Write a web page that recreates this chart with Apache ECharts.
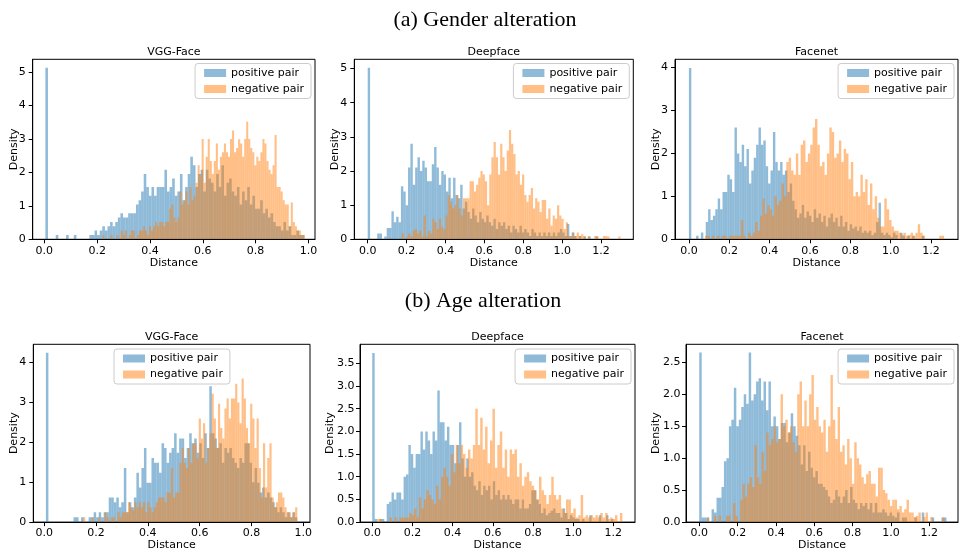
<!DOCTYPE html>
<html lang="en">
<head>
<meta charset="UTF-8">
<title>Distance distributions</title>
<script src="https://cdn.jsdelivr.net/npm/echarts@6/dist/echarts.min.js"></script>
<style>
    html, body { margin: 0; padding: 0; background: #fff; }
    #chart { width: 960px; height: 552px; }
</style>
</head>
<body>
<div id="chart"></div>
<script>
// ---- text ----
var rowTitles = ['(a) Gender alteration', '(b) Age alteration'];
var modelNames = ['VGG-Face', 'Deepface', 'Facenet'];
var seriesNames = ['positive pair', 'negative pair'];

// ---- tick values ----
var xTicks10 = [0, 0.2, 0.4, 0.6, 0.8, 1.0];
var xTicks12 = [0, 0.2, 0.4, 0.6, 0.8, 1.0, 1.2];
var yTicks5 = [0, 1, 2, 3, 4, 5];
var yTicks4 = [0, 1, 2, 3, 4];
var yTicks35 = [0, 0.5, 1.0, 1.5, 2.0, 2.5, 3.0, 3.5];
var yTicks25 = [0, 0.5, 1.0, 1.5, 2.0, 2.5];

// ---- histograms: first/last bin edge + 100 densities ----
var gVggPosEdges = [0.004, 0.984];
var gVggPos = [
    5.13, 0, 0, 0, 0.13, 0, 0, 0, 0.13, 0,
    0, 0.13, 0, 0, 0, 0, 0, 0.13, 0.13, 0.26,
    0.13, 0.26, 0.39, 0.26, 0.39, 0.52, 0.39, 0.52, 0.65, 0.78,
    0.65, 0.65, 0.78, 0.78, 0.78, 1.04, 1.17, 1.43, 1.95, 1.56,
    1.3, 1.56, 1.3, 1.56, 1.56, 1.56, 2.08, 1.43, 1.56, 1.82,
    1.3, 1.43, 1.95, 1.17, 1.56, 1.95, 2.47, 2.21, 1.56, 1.95,
    2.08, 1.43, 2.08, 1.82, 1.69, 1.43, 1.95, 1.56, 2.21, 1.3,
    1.69, 1.82, 1.43, 1.3, 1.56, 1.04, 1.43, 1.17, 1.56, 1.04,
    1.3, 0.91, 0.91, 1.17, 0.78, 0.91, 0.65, 0.78, 0.52, 0.39,
    0.39, 0.26, 0.52, 0.26, 0.39, 0.13, 0.13, 0.26, 0.13, 0.13
];
var gVggNegEdges = [0.22, 0.987];
var gVggNeg = [
    0.13, 0, 0, 0, 0.13, 0, 0, 0.13, 0, 0.26,
    0.13, 0.26, 0, 0.13, 0.26, 0.26, 0, 0.13, 0.26, 0.26,
    0.39, 0.26, 0.13, 0.39, 0.26, 0.39, 0.52, 0.39, 0.52, 0.52,
    0.39, 0.52, 0.52, 0.91, 1.04, 0.65, 0.52, 0.65, 1.43, 1.04,
    1.17, 1.43, 1.04, 1.56, 1.17, 1.3, 1.69, 2.21, 1.95, 3.0,
    1.69, 2.47, 3.0, 2.34, 1.95, 2.34, 2.86, 2.08, 2.47, 2.6,
    2.86, 2.6, 2.47, 3.0, 3.25, 2.6, 2.73, 2.99, 2.86, 2.47,
    3.0, 3.51, 3.0, 2.73, 2.6, 2.21, 2.47, 2.34, 2.6, 3.0,
    2.86, 2.34, 2.08, 1.95, 2.21, 3.12, 1.56, 1.56, 1.43, 1.17,
    1.04, 1.04, 0.39, 1.1, 0.52, 0.39, 0.26, 0.26, 0.13, 0.13
];

var gDeepPosEdges = [0, 1.22];
var gDeepPos = [
    5.02, 0, 0, 0, 0.17, 0.17, 0, 0.08, 0.33, 0.33,
    0.82, 0.5, 0.66, 0.5, 1.55, 1.4, 1.0, 2.1, 2.8, 1.6,
    2.1, 2.4, 2.0, 2.3, 2.1, 1.7, 1.7, 2.2, 2.7, 2.1,
    1.6, 2.0, 1.9, 1.4, 1.8, 1.2, 1.8, 1.3, 1.2, 1.6,
    0.9, 1.1, 0.8, 0.6, 0.9, 0.7, 0.5, 0.8, 0.6, 0.5,
    0.7, 0.5, 0.4, 0.6, 0.3, 0.5, 0.4, 0.5, 0.3, 0.4,
    0.2, 0.4, 0.3, 0.2, 0.4, 0.2, 0.3, 0.2, 0.1, 0.3,
    0.2, 0.1, 0.2, 0.1, 0.2, 0.1, 0.2, 0.1, 0.2, 0.1,
    0.2, 0.3, 0.2, 0.1, 0.45, 0.1, 0.2, 0.1, 0, 0.1,
    0, 0.08, 0, 0.08, 0, 0, 0.08, 0, 0, 0
];
var gDeepNegEdges = [0.175, 1.3];
var gDeepNeg = [
    0.17, 0, 0.08, 0.17, 0.08, 0.25, 0.3, 0.17, 0.25, 0.08,
    0.7, 0.08, 0.25, 0.17, 0.6, 0.5, 0.3, 0.6, 0.35, 0.3,
    0.7, 1.3, 1.1, 0.9, 1.0, 1.3, 0.9, 0.7, 1.2, 1.2,
    1.2, 1.7, 1.7, 1.4, 1.6, 1.8, 2.0, 1.9, 1.7, 1.0,
    1.9, 2.4, 2.85, 2.4, 1.9, 2.8, 2.4, 2.0, 2.6, 3.2,
    2.8, 2.5, 1.9, 2.0, 1.6, 1.9, 1.3, 1.1, 1.3, 1.5,
    0.9, 1.2, 1.1, 0.8, 1.15, 1.15, 0.6, 0.9, 0.4, 0.7,
    0.6, 1.0, 0.7, 0.6, 0.3, 0.5, 0.1, 0.1, 0.2, 0.1,
    0.2, 0.1, 0.15, 0.1, 0, 0.1, 0, 0, 0.1, 0.1,
    0, 0, 0.1, 0.1, 0.08, 0, 0, 0, 0, 0.08
];

var gFacePosEdges = [0, 1.19];
var gFacePos = [
    3.99, 0, 0, 0.08, 0, 0.16, 0, 0.4, 0.7, 0.45,
    0.55, 0.7, 0.95, 0.7, 1.1, 1.1, 1.5, 1.4, 1.1, 2.6,
    2.0, 1.8, 2.2, 1.7, 2.1, 1.3, 1.6, 1.9, 2.2, 2.6,
    2.2, 2.3, 1.7, 1.3, 1.6, 2.5, 1.8, 1.6, 1.8, 1.5,
    1.6, 1.1, 1.3, 0.9, 0.7, 0.5, 0.6, 0.8, 0.5, 0.65,
    0.55, 0.4, 0.7, 0.5, 0.6, 0.4, 0.55, 0.3, 0.5, 0.6,
    0.4, 0.5, 0.3, 0.55, 0.3, 0.4, 0.2, 0.35, 0.25, 0.3,
    0.2, 0.3, 0.15, 0.2, 0.15, 0.2, 0.1, 0.15, 0.4, 0.85,
    0.15, 0.1, 0.15, 0.1, 0.05, 0.15, 0.1, 0, 0.15, 0.08,
    0, 0.08, 0, 0.08, 0, 0, 0, 0.08, 0, 0
];
var gFaceNegEdges = [0.08, 1.265];
var gFaceNeg = [
    0.08, 0.08, 0, 0.08, 0, 0.08, 0, 0.08, 0.08, 0,
    0.08, 0.08, 0.08, 0.08, 0.08, 0.45, 0.08, 0, 0.15, 0.08,
    0.15, 0.4, 0.2, 0.55, 0.95, 0.6, 0.8, 0.7, 0.55, 1.0,
    0.8, 0.9, 1.3, 1.0, 1.8, 1.9, 1.6, 1.5, 2.0, 1.5,
    2.2, 2.3, 1.8, 2.0, 2.2, 2.6, 2.8, 2.2, 1.7, 1.8,
    1.5, 2.0, 2.6, 2.5, 1.9, 2.0, 2.3, 1.8, 2.1, 2.0,
    1.4, 1.8, 1.0, 1.1, 1.0, 1.5, 1.1, 1.4, 0.8, 1.3,
    0.7, 1.0, 0.5, 0.3, 0.3, 0.95, 0.7, 0.45, 0.3, 0.2,
    0.2, 0.15, 0.1, 0.15, 0.08, 0.1, 0.15, 0.08, 0.15, 0.35,
    0.15, 0.08, 0, 0, 0, 0, 0, 0, 0.08, 0.08
];

var aVggPosEdges = [0.0066, 0.977];
var aVggPos = [
    4.25, 0, 0, 0, 0, 0, 0, 0, 0, 0,
    0, 0.12, 0.12, 0, 0.12, 0, 0, 0.12, 0.12, 0.25,
    0.12, 0.25, 0.12, 0.25, 0.25, 0.62, 0.62, 0.5, 0.62, 0.37,
    0.5, 1.36, 0.25, 0.5, 0.37, 0.62, 1.24, 0.87, 1.36, 1.86,
    0.99, 0.99, 1.61, 1.49, 1.49, 1.24, 1.98, 1.86, 1.49, 1.74,
    1.86, 2.23, 1.74, 2.1, 2.1, 1.61, 1.86, 2.23, 1.98, 2.1,
    1.74, 1.98, 1.61, 2.23, 1.86, 3.41, 2.23, 2.1, 1.86, 1.98,
    1.49, 1.86, 1.74, 1.86, 1.61, 1.49, 1.36, 1.61, 1.49, 1.98,
    1.98, 1.49, 1.0, 1.36, 0.99, 0.74, 0.87, 0.62, 0.74, 0.62,
    0.5, 0.37, 0.25, 0.37, 0.25, 0.12, 0.25, 0.12, 0.25, 0.12
];
var aVggNegEdges = [0.15, 0.977];
var aVggNeg = [
    0.12, 0, 0, 0, 0.12, 0, 0, 0.12, 0, 0,
    0.25, 0.12, 0, 0.12, 0.12, 0, 0.25, 0.12, 0.25, 0.25,
    0.25, 0.5, 0.37, 0.3, 0.5, 0.37, 0.5, 0.37, 0.5, 0.25,
    0.5, 0.37, 0.25, 0.37, 0.5, 0.62, 0.62, 0.62, 0.5, 0.74,
    0.74, 1.36, 0.62, 0.74, 0.74, 1.49, 1.86, 1.49, 1.36, 1.86,
    1.49, 1.98, 1.98, 1.61, 2.6, 2.1, 2.48, 1.49, 1.86, 2.23,
    3.22, 2.6, 1.86, 2.97, 2.36, 2.1, 2.85, 3.1, 2.6, 3.1,
    3.1, 3.47, 3.0, 2.48, 3.6, 3.1, 2.36, 1.98, 2.97, 2.6,
    1.86, 2.6, 1.36, 0.62, 1.98, 0.87, 1.61, 1.98, 0.62, 0.37,
    0.5, 0.74, 0.74, 0.62, 0.37, 0.25, 0.25, 0.12, 0.25, 0.37
];

var aDeepPosEdges = [0, 1.2];
var aDeepPos = [
    3.73, 0.07, 0, 0.07, 0.07, 0, 0.4, 0.45, 0.65, 0.5,
    0.65, 0.65, 0.5, 1.0, 1.05, 1.7, 1.5, 1.2, 1.5, 1.5,
    2.0, 1.6, 2.0, 1.8, 1.5, 2.0, 1.8, 2.9, 2.2, 2.2,
    1.8, 2.1, 1.7, 1.7, 1.3, 1.7, 2.2, 1.4, 1.0, 1.4,
    1.0, 1.1, 0.8, 0.7, 0.9, 0.6, 0.8, 0.7, 0.8, 0.5,
    0.9, 0.6, 0.7, 0.5, 0.6, 0.5, 0.6, 0.5, 0.4, 0.5,
    0.5, 0.3, 0.5, 0.3, 0.3, 0.4, 0.7, 0.7, 0.5, 0.4,
    0.2, 0.3, 0.15, 0.2, 0.25, 0.3, 0.2, 0.2, 0.1, 0.3,
    0.2, 0.07, 0.15, 0.1, 0.07, 0.07, 0, 0.07, 0, 0,
    0.15, 0, 0, 0, 0.15, 0, 0, 0.15, 0, 0.07
];
var aDeepNegEdges = [0.025, 1.245];
var aDeepNeg = [
    0.07, 0.07, 0, 0, 0, 0.1, 0, 0.1, 0, 0.1,
    0.1, 0.1, 0.1, 0.2, 0.15, 0.3, 0.1, 0.55, 0.3, 0.5,
    0.7, 0.6, 0.5, 0.4, 0.8, 0.5, 1.0, 1.2, 1.0, 0.8,
    1.5, 1.1, 1.7, 1.3, 1.7, 1.5, 1.2, 1.6, 1.4, 1.7,
    2.5, 1.7, 2.3, 1.6, 2.1, 1.3, 1.8, 2.5, 1.2, 1.7,
    2.0, 1.2, 1.6, 1.0, 1.6, 1.5, 1.6, 1.0, 1.3, 0.8,
    1.0, 1.1, 0.9, 0.8, 0.7, 0.5, 1.0, 0.7, 0.6, 0.4,
    0.6, 1.0, 0.6, 0.5, 0.6, 0.3, 0.2, 0.5, 0.5, 0.2,
    0.3, 0.1, 0.15, 0.6, 0.1, 0.15, 0.1, 0.15, 0.1, 0.15,
    0.1, 0.2, 0.1, 0.2, 0.07, 0.1, 0.07, 0.15, 0, 0.2
];

var aFacePosEdges = [0, 1.29];
var aFacePos = [
    2.65, 0.07, 0.07, 0.07, 0, 0.2, 0.15, 0.38, 0.38, 0.55,
    0.95, 1.0, 1.5, 1.6, 2.1, 1.5, 1.6, 1.8, 2.0, 1.85,
    2.65, 1.9, 2.0, 2.2, 2.25, 1.9, 2.2, 1.75, 2.2, 1.5,
    1.65, 1.5, 1.3, 1.55, 1.55, 1.25, 1.4, 1.7, 1.5, 1.35,
    1.2, 0.9, 1.2, 0.8, 1.1, 0.85, 0.7, 0.8, 0.6, 0.6,
    0.55, 0.5, 0.4, 0.3, 0.35, 0.5, 0.4, 0.3, 0.4, 0.5,
    0.3, 0.55, 0.35, 0.3, 0.2, 0.3, 0.25, 0.3, 0.2, 0.3,
    0.15, 0.3, 0.15, 0.15, 0.2, 0.15, 0.1, 0.15, 0.1, 0.07,
    0.15, 0, 0.07, 0.07, 0, 0, 0, 0.07, 0, 0,
    0.15, 0, 0, 0, 0.07, 0, 0, 0, 0.07, 0.07
];
var aFaceNegEdges = [0.04, 1.28];
var aFaceNeg = [
    0.07, 0, 0, 0.1, 0, 0.1, 0, 0, 0.1, 0.1,
    0, 0.3, 0.1, 0, 0.35, 0.6, 0.4, 0.6, 0.7, 0.55,
    1.2, 0.7, 0.6, 1.1, 0.8, 1.4, 1.2, 1.3, 1.5, 1.25,
    1.3, 2.0, 1.5, 1.6, 1.4, 1.5, 1.25, 1.1, 2.0, 2.2,
    1.5, 1.9, 1.5, 2.0, 2.3, 1.6, 1.8, 1.5, 1.4, 1.6,
    1.1, 1.5, 2.3, 1.6, 1.3, 1.8, 1.1, 1.2, 0.9, 1.3,
    1.0, 0.6, 1.25, 1.0, 0.9, 0.7, 0.6, 0.75, 0.8, 0.6,
    0.6, 0.4, 0.85, 0.85, 0.5, 0.45, 0.35, 0.25, 0.35, 0.35,
    0.2, 0.25, 0.15, 0.2, 0.35, 0.15, 0.15, 0.08, 0.1, 0.15,
    0, 0.08, 0.15, 0, 0.08, 0, 0, 0, 0, 0.07
];

// ---- layout of the six panels ----
var panels = [
    { name: modelNames[0], pos: gVggPos, posEdges: gVggPosEdges, neg: gVggNeg, negEdges: gVggNegEdges,
      grid: { left: 32.7, top: 59.3, width: 282.3, height: 180 }, xMin: -0.044, xMax: 1.025, yMax: 5.38,
      xTicks: xTicks10, yTicks: yTicks5, yDigits: 0, legend: { top: 63.5, right: 649 }, yGap: 13.5, yMargin: 7 },
    { name: modelNames[1], pos: gDeepPos, posEdges: gDeepPosEdges, neg: gDeepNeg, negEdges: gDeepNegEdges,
      grid: { left: 354.3, top: 59.3, width: 279, height: 180 }, xMin: -0.069, xMax: 1.366, yMax: 5.27,
      xTicks: xTicks12, yTicks: yTicks5, yDigits: 0, legend: { top: 63.5, right: 330.7 }, yGap: 13.5, yMargin: 7 },
    { name: modelNames[2], pos: gFacePos, posEdges: gFacePosEdges, neg: gFaceNeg, negEdges: gFaceNegEdges,
      grid: { left: 675, top: 59.3, width: 283, height: 180 }, xMin: -0.069, xMax: 1.334, yMax: 4.19,
      xTicks: xTicks12, yTicks: yTicks4, yDigits: 0, legend: { top: 63.5, right: 6 }, yGap: 13.5, yMargin: 7 },
    { name: modelNames[0], pos: aVggPos, posEdges: aVggPosEdges, neg: aVggNeg, negEdges: aVggNegEdges,
      grid: { left: 33.3, top: 344.3, width: 276.7, height: 180 }, xMin: -0.042, xMax: 1.026, yMax: 4.46,
      xTicks: xTicks10, yTicks: yTicks4, yDigits: 0, legend: { top: 349, left: 114 }, yGap: 13.5, yMargin: 7 },
    { name: modelNames[1], pos: aDeepPos, posEdges: aDeepPosEdges, neg: aDeepNeg, negEdges: aDeepNegEdges,
      grid: { left: 360, top: 344.3, width: 275, height: 180 }, xMin: -0.061, xMax: 1.308, yMax: 3.92,
      xTicks: xTicks12, yTicks: yTicks35, yDigits: 1, legend: { top: 349, right: 329 }, yGap: 24.5, yMargin: 5.5 },
    { name: modelNames[2], pos: aFacePos, posEdges: aFacePosEdges, neg: aFaceNeg, negEdges: aFaceNegEdges,
      grid: { left: 686, top: 344.3, width: 272, height: 180 }, xMin: -0.069, xMax: 1.35, yMax: 2.78,
      xTicks: xTicks12, yTicks: yTicks25, yDigits: 1, legend: { top: 349, right: 6 }, yGap: 24.5, yMargin: 5.5 }
];

var FONT = '"DejaVu Sans", sans-serif';
var BLUE = '#1f77b4', ORANGE = '#ff7f0e';

function toBins(edges, heights) {
    var w = (edges[1] - edges[0]) / heights.length;
    return heights.map(function (h, i) {
        return [edges[0] + i * w, edges[0] + (i + 1) * w, h];
    });
}

// one rectangle per bin, placed through the axes
function histItem(color) {
    return function (params, api) {
        var a = api.coord([api.value(0), api.value(2)]);
        var b = api.coord([api.value(1), 0]);
        return {
            type: 'rect',
            shape: { x: a[0], y: a[1], width: b[0] - a[0], height: b[1] - a[1] },
            style: { fill: color, opacity: 0.5 }
        };
    };
}

var grids = [], xAxes = [], yAxes = [], series = [], legends = [], graphics = [];

panels.forEach(function (p, k) {
    grids.push({
        left: p.grid.left, top: p.grid.top, width: p.grid.width, height: p.grid.height,
        show: true, borderColor: '#000', borderWidth: 1, backgroundColor: '#fff'
    });
    xAxes.push({
        type: 'value', gridIndex: k, min: p.xMin, max: p.xMax,
        name: 'Distance', nameLocation: 'middle', nameGap: 16.5,
        nameTextStyle: { fontFamily: FONT, fontSize: 11, color: '#000' },
        axisLine: { show: true, onZero: false, lineStyle: { color: '#000', width: 1 } },
        axisTick: { show: true, length: 4, customValues: p.xTicks, lineStyle: { color: '#000' } },
        axisLabel: {
            customValues: p.xTicks, margin: 6, fontFamily: FONT, fontSize: 11, color: '#000',
            formatter: function (v) { return v.toFixed(1); }
        },
        splitLine: { show: false }
    });
    yAxes.push({
        type: 'value', gridIndex: k, min: 0, max: p.yMax,
        name: 'Density', nameLocation: 'middle', nameGap: p.yGap, nameMoveOverlap: false,
        nameTextStyle: { fontFamily: FONT, fontSize: 11, color: '#000' },
        axisLine: { show: true, onZero: false, lineStyle: { color: '#000', width: 1 } },
        axisTick: { show: true, length: 4, customValues: p.yTicks, lineStyle: { color: '#000' } },
        axisLabel: {
            customValues: p.yTicks, margin: p.yMargin, fontFamily: FONT, fontSize: 11, color: '#000',
            formatter: function (v) { return v.toFixed(p.yDigits); }
        },
        splitLine: { show: false }
    });
    series.push({
        type: 'custom', name: seriesNames[0], xAxisIndex: k, yAxisIndex: k,
        renderItem: histItem(BLUE), encode: { x: [0, 1], y: 2 },
        itemStyle: { color: BLUE }, data: toBins(p.posEdges, p.pos), clip: true, silent: true
    });
    series.push({
        type: 'custom', name: seriesNames[1], xAxisIndex: k, yAxisIndex: k,
        renderItem: histItem(ORANGE), encode: { x: [0, 1], y: 2 },
        itemStyle: { color: ORANGE }, data: toBins(p.negEdges, p.neg), clip: true, silent: true
    });
    var lg = {
        orient: 'vertical', icon: 'rect', itemWidth: 22, itemHeight: 8, itemGap: 5,
        padding: [4, 7, 4, 9], selectedMode: false,
        backgroundColor: 'rgba(255,255,255,0.8)', borderColor: '#cccccc', borderWidth: 1, borderRadius: 3,
        textStyle: { fontFamily: FONT, fontSize: 11, color: '#000' },
        data: [
            { name: seriesNames[0], itemStyle: { color: '#8fbbd9' } },
            { name: seriesNames[1], itemStyle: { color: '#ffbf86' } }
        ]
    };
    Object.keys(p.legend).forEach(function (key) { lg[key] = p.legend[key]; });
    legends.push(lg);
    // panel title above the frame
    graphics.push({
        type: 'text', x: p.grid.left + p.grid.width / 2, y: p.grid.top - 7, z: 10,
        style: { text: p.name, align: 'center', verticalAlign: 'middle', font: '11px ' + FONT, fill: '#000' }
    });
});

graphics.push({
    type: 'text', x: 485, y: 20, z: 10,
    style: { text: rowTitles[0], align: 'center', verticalAlign: 'middle', font: '22px "Liberation Serif", serif', fill: '#000' }
});
graphics.push({
    type: 'text', x: 483, y: 301, z: 10,
    style: { text: rowTitles[1], align: 'center', verticalAlign: 'middle', font: '22px "Liberation Serif", serif', fill: '#000' }
});

var chart = echarts.init(document.getElementById('chart'), null, { renderer: 'canvas' });
chart.setOption({
    animation: false,
    backgroundColor: '#fff',
    grid: grids,
    xAxis: xAxes,
    yAxis: yAxes,
    legend: legends,
    graphic: graphics,
    series: series
});
</script>
</body>
</html>
